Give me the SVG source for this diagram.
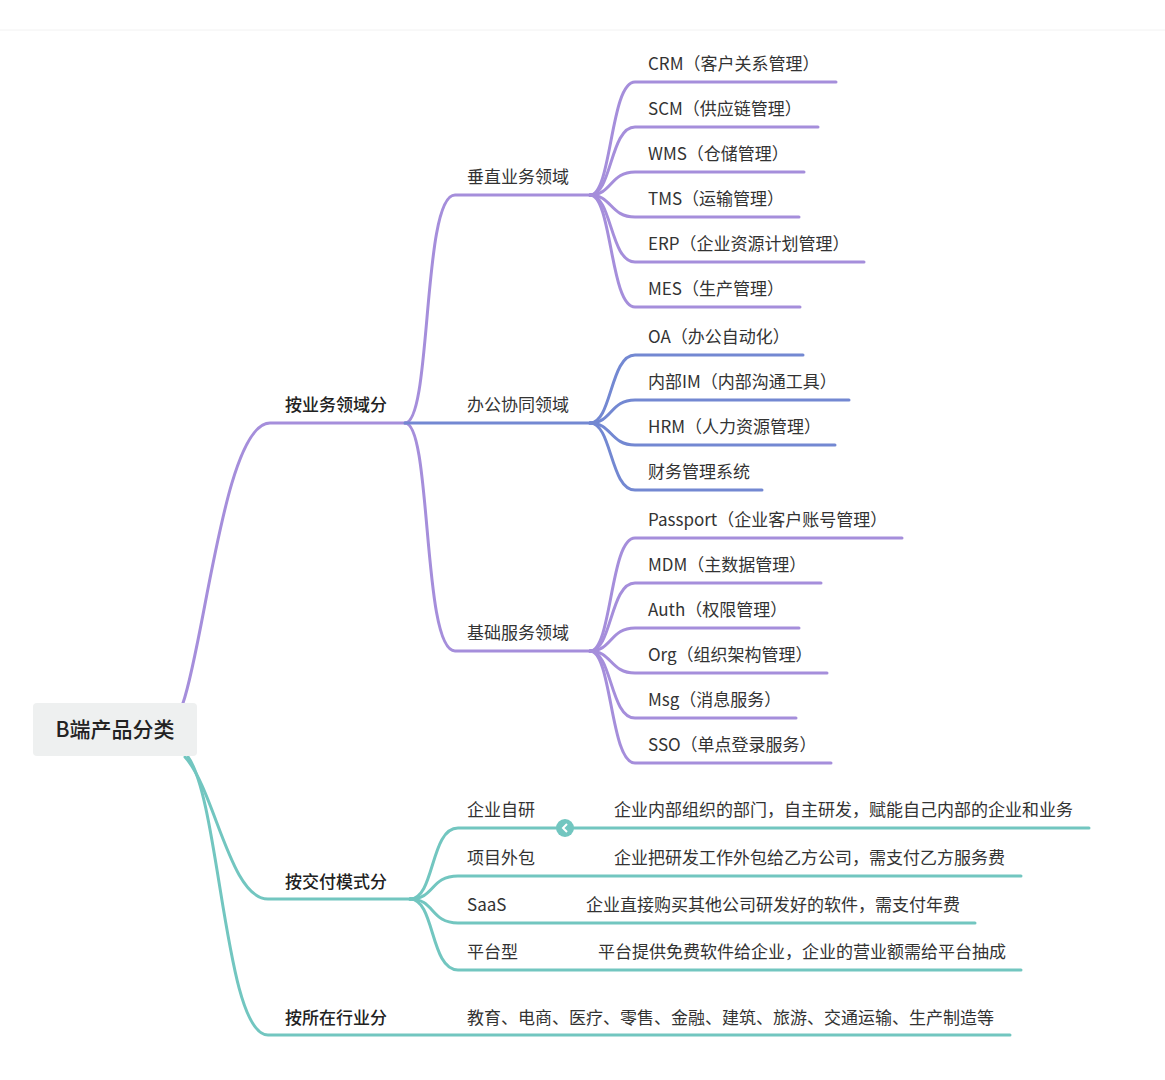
<svg xmlns="http://www.w3.org/2000/svg" width="1165" height="1080" viewBox="0 0 1165 1080">
<style>
text{font-family:"Noto Sans CJK SC","Liberation Sans",sans-serif;font-size:17px;fill:#333}
.b{font-weight:500;fill:#222}
.p{stroke:#a58edb;stroke-width:3;fill:none;stroke-linecap:round}
.u{stroke:#7388d2;stroke-width:3;fill:none;stroke-linecap:round}
.t{stroke:#72c6c0;stroke-width:3;fill:none;stroke-linecap:round}
</style>
<rect width="1165" height="1080" fill="#fff"/>
<line x1="0" y1="30" x2="1165" y2="30" stroke="#f2f2f2"/>
<g id="connectors">
<path class="p" d="M183 703 C205 640 225 423 270 423 L405 423"/>
<path class="p" d="M405 423 C432 423 422 195 455 195 L590 195"/>
<path class="p" d="M405 423 C432 423 422 651 455 651 L590 651"/>
<path class="u" d="M405 423 L590 423"/>
<path class="p" d="M590 195 C612 195 610 82 635 82 L836 82"/>
<path class="p" d="M590 195 C612 195 610 127 635 127 L818 127"/>
<path class="p" d="M590 195 C612 195 610 172 635 172 L804 172"/>
<path class="p" d="M590 195 C612 195 610 217 635 217 L799 217"/>
<path class="p" d="M590 195 C612 195 610 262 635 262 L864 262"/>
<path class="p" d="M590 195 C612 195 610 307 635 307 L800 307"/>
<path class="u" d="M590 423 C612 423 610 355 635 355 L803 355"/>
<path class="u" d="M590 423 C612 423 610 400 635 400 L849 400"/>
<path class="u" d="M590 423 C612 423 610 445 635 445 L835 445"/>
<path class="u" d="M590 423 C612 423 610 490 635 490 L762 490"/>
<path class="p" d="M590 651 C612 651 610 538 635 538 L902 538"/>
<path class="p" d="M590 651 C612 651 610 583 635 583 L821 583"/>
<path class="p" d="M590 651 C612 651 610 628 635 628 L799 628"/>
<path class="p" d="M590 651 C612 651 610 673 635 673 L827 673"/>
<path class="p" d="M590 651 C612 651 610 718 635 718 L796 718"/>
<path class="p" d="M590 651 C612 651 610 763 635 763 L831 763"/>
<path class="t" d="M185 757 C215 790 230 899 268 899 L410 899"/>
<path class="t" d="M188 757 C220 800 225 1035 268 1035 L1010 1035"/>
<path class="t" d="M410 899 C435 899 430 828 458 828 L1089 828"/>
<path class="t" d="M410 899 C435 899 430 876 458 876 L1021 876"/>
<path class="t" d="M410 899 C435 899 430 923 458 923 L975 923"/>
<path class="t" d="M410 899 C435 899 430 970 458 970 L1021 970"/>
<circle cx="565" cy="828" r="9" fill="#72c6c0"/>
<path d="M567 824 L563 828 L567 832" stroke="#fff" stroke-width="2" fill="none"/>
</g>
<g id="root"><rect x="33" y="703" width="164" height="53" rx="4" fill="#eef0f0"/><text x="115" y="737" text-anchor="middle" style="font-size:21px" class="b">B端产品分类</text></g>
<g id="n1"><text x="285" y="411" class="b">按业务领域分</text></g>
<g id="n2"><text x="285" y="888" class="b">按交付模式分</text></g>
<g id="n3"><text x="285" y="1024" class="b">按所在行业分</text></g>
<g id="n4"><text x="467" y="183">垂直业务领域</text></g>
<g id="n5"><text x="467" y="411">办公协同领域</text></g>
<g id="n6"><text x="467" y="639">基础服务领域</text></g>
<g id="leaves">
<text x="648" y="70">CRM（客户关系管理）</text>
<text x="648" y="115">SCM（供应链管理）</text>
<text x="648" y="160">WMS（仓储管理）</text>
<text x="648" y="205">TMS（运输管理）</text>
<text x="648" y="250">ERP（企业资源计划管理）</text>
<text x="648" y="295">MES（生产管理）</text>
<text x="648" y="343">OA（办公自动化）</text>
<text x="648" y="388">内部IM（内部沟通工具）</text>
<text x="648" y="433">HRM（人力资源管理）</text>
<text x="648" y="478">财务管理系统</text>
<text x="648" y="526">Passport（企业客户账号管理）</text>
<text x="648" y="571">MDM（主数据管理）</text>
<text x="648" y="616">Auth（权限管理）</text>
<text x="648" y="661">Org（组织架构管理）</text>
<text x="648" y="706">Msg（消息服务）</text>
<text x="648" y="751">SSO（单点登录服务）</text>
<text x="467" y="816">企业自研</text>
<text x="614" y="816">企业内部组织的部门，自主研发，赋能自己内部的企业和业务</text>
<text x="467" y="864">项目外包</text>
<text x="614" y="864">企业把研发工作外包给乙方公司，需支付乙方服务费</text>
<text x="467" y="911">SaaS</text>
<text x="586" y="911">企业直接购买其他公司研发好的软件，需支付年费</text>
<text x="467" y="958">平台型</text>
<text x="598" y="958">平台提供免费软件给企业，企业的营业额需给平台抽成</text>
<text x="467" y="1024">教育、电商、医疗、零售、金融、建筑、旅游、交通运输、生产制造等</text>
</g>
</svg>
